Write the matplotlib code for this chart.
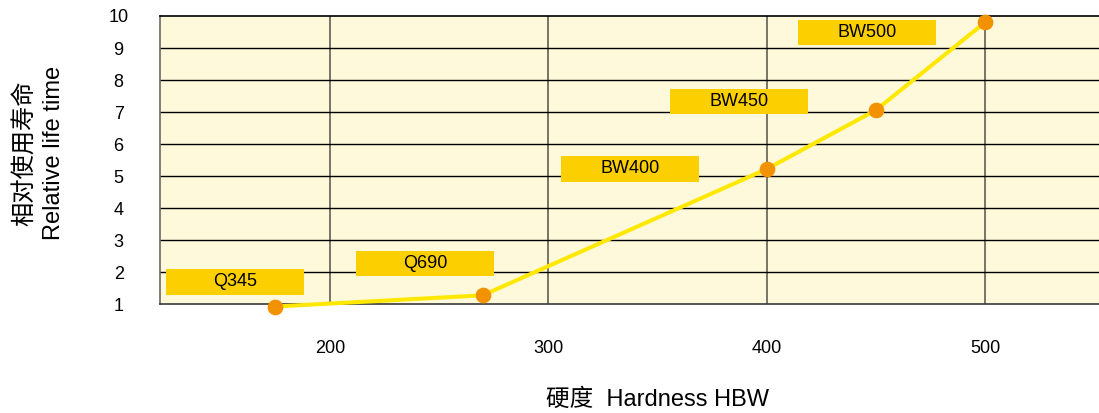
import matplotlib.pyplot as plt
from matplotlib.patches import Rectangle

plt.rcParams['font.family'] = ['Liberation Sans', 'Noto Sans CJK SC', 'DejaVu Sans']

# hardness vs relative life time
hardness = [175, 270, 400, 450, 500]
life_time = [0.93, 1.28, 5.22, 7.06, 9.8]
grades = ['Q345', 'Q690', 'BW400', 'BW450', 'BW500']

# where the grade boxes sit (centre, data units)
label_x = [156.6, 243.6, 337.5, 387.4, 445.9]
label_y = [1.70, 2.27, 5.23, 7.33, 9.48]

x_ticks = [200, 300, 400, 500]
y_ticks = list(range(1, 11))

fig = plt.figure(figsize=(10.99, 4.13), dpi=100)
ax = fig.add_axes([0.1459, 0.2632, 0.8541, 0.6981])
ax.set_facecolor('#FFF9DB')
ax.set_xlim(122.4, 552.2)
ax.set_ylim(1, 10)

for x in x_ticks:
    ax.axvline(x, color='#6E6A60', lw=1.3, zorder=1)
for y in y_ticks[1:-1]:
    ax.axhline(y, color='black', lw=1.0, zorder=1)

ax.set_xticks(x_ticks)
ax.set_yticks(y_ticks)
ax.tick_params(length=0, labelsize=13)
ax.tick_params(axis='x', pad=26)
ax.tick_params(axis='y', pad=30)
for t in ax.get_yticklabels():
    t.set_horizontalalignment('center')

ax.spines['right'].set_visible(False)
ax.spines['top'].set_color('black')
ax.spines['left'].set_color('#6E6A60')
ax.spines['bottom'].set_color('#3A3A3A')
for s in ax.spines.values():
    s.set_linewidth(1.2)

# grade boxes
bw, bh = 63.2, 0.8
for gx, gy, g in zip(label_x, label_y, grades):
    ax.add_patch(Rectangle((gx - bw / 2, gy - bh / 2), bw, bh,
                           facecolor='#FCCF00', edgecolor='none', zorder=2))
    ax.text(gx, gy, g, ha='center', va='center', fontsize=13, zorder=3)

ax.plot(hardness, life_time, color='#FFE800', lw=2.9, zorder=4, clip_on=False)
ax.plot(hardness, life_time, 'o', color='#F39200', markersize=10.3,
        zorder=5, clip_on=False)

fig.text(25 / 1099, 1 - 153 / 413, '相对使用寿命', rotation=90,
         ha='center', va='center', fontsize=17.5)
fig.text(54 / 1099, 1 - 153 / 413, 'Relative life time', rotation=90,
         ha='center', va='center', fontsize=17)
fig.text(657 / 1099, 1 - 400 / 413, '硬度  Hardness HBW',
         ha='center', va='center', fontsize=17)

fig.savefig('out.png', dpi=100)
